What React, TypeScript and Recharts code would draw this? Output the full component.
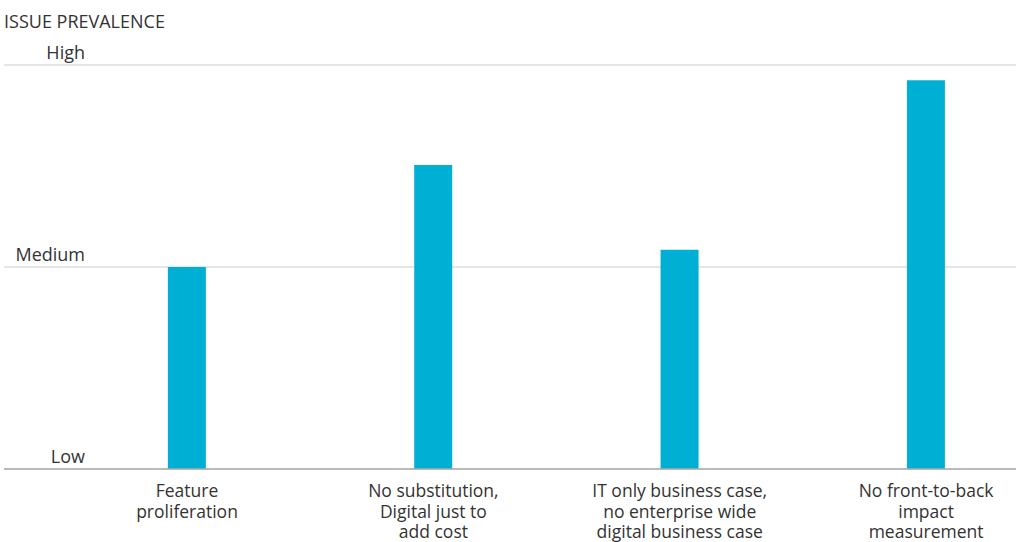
import React from 'react';
import { BarChart, Bar, XAxis, YAxis, CartesianGrid } from 'recharts';

const categories = [
  ['Feature', 'proliferation'],
  ['No substitution,', 'Digital just to', 'add cost'],
  ['IT only business case,', 'no enterprise wide', 'digital business case'],
  ['No front-to-back', 'impact', 'measurement'],
];
const prevalence = [1.0, 1.505, 1.085, 1.925];
const levelLabels = ['Low', 'Medium', 'High'];

const data = prevalence.map((value, idx) => ({ idx, value }));

const FONT = '"Open Sans", "Noto Sans", sans-serif';
const TEXT = '#333333';

function CategoryTick({ x, y, payload }: any) {
  const lines = categories[payload.value] || [];
  return (
    <text x={x} y={y} textAnchor="middle" fill={TEXT} fontSize={17.5} fontFamily={FONT}>
      {lines.map((line, i) => (
        <tspan key={i} x={x} dy={i === 0 ? 20 : 20.5}>
          {line}
        </tspan>
      ))}
    </text>
  );
}

function LevelTick({ y, payload }: any) {
  return (
    <text x={85} y={y - 6} textAnchor="end" fill={TEXT} fontSize={18} fontFamily={FONT}>
      {levelLabels[payload.value]}
    </text>
  );
}

export default function App() {
  return (
    <div style={{ position: 'absolute', left: 0, top: 0, width: 1016, height: 542, fontFamily: FONT }}>
      <div style={{ position: 'absolute', left: 4, top: 12, fontSize: 18, lineHeight: '18px', color: TEXT }}>
        ISSUE PREVALENCE
      </div>
      <BarChart width={1016} height={542} data={data} margin={{ top: 65, right: 0, left: 4, bottom: 0 }}>
        <CartesianGrid horizontal vertical={false} stroke="#cccccc" />
        <XAxis
          type="number"
          dataKey="idx"
          domain={[-0.743, 3.365]}
          ticks={[0, 1, 2, 3]}
          tick={<CategoryTick />}
          tickLine={false}
          axisLine={{ stroke: '#aaaaaa', strokeWidth: 1.5 }}
          height={73}
          interval={0}
          allowDataOverflow
        />
        <YAxis
          type="number"
          domain={[0, 2]}
          ticks={[0, 1, 2]}
          width={1}
          mirror
          interval={0}
          tick={<LevelTick />}
          tickLine={false}
          axisLine={false}
        />
        <Bar dataKey="value" fill="#00B0D4" barSize={38} isAnimationActive={false} />
      </BarChart>
    </div>
  );
}
